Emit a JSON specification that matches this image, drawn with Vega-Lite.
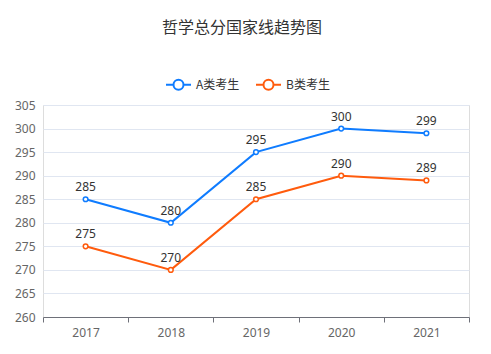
{
  "$schema": "https://vega.github.io/schema/vega-lite/v6.json",
  "autosize": "none",
  "width": 426,
  "height": 212,
  "padding": {"left": 43, "top": 105, "right": 22, "bottom": 37},
  "background": "white",
  "title": {
    "text": "哲学总分国家线趋势图",
    "frame": "bounds",
    "anchor": "middle",
    "fontSize": 16,
    "fontWeight": "normal",
    "color": "#333",
    "font": "Noto Sans CJK SC",
    "offset": 35
  },
  "data": {
    "values": [
      {"year": "2017", "type": "A类考生", "score": 285},
      {"year": "2018", "type": "A类考生", "score": 280},
      {"year": "2019", "type": "A类考生", "score": 295},
      {"year": "2020", "type": "A类考生", "score": 300},
      {"year": "2021", "type": "A类考生", "score": 299},
      {"year": "2017", "type": "B类考生", "score": 275},
      {"year": "2018", "type": "B类考生", "score": 270},
      {"year": "2019", "type": "B类考生", "score": 285},
      {"year": "2020", "type": "B类考生", "score": 290},
      {"year": "2021", "type": "B类考生", "score": 289}
    ]
  },
  "encoding": {
    "x": {
      "field": "year",
      "type": "ordinal",
      "bandPosition": 0.5,
      "scale": {"type": "band", "paddingInner": 0, "paddingOuter": 0},
      "axis": {
        "title": null,
        "labelAngle": 0,
        "tickBand": "extent",
        "domainColor": "#6e7079",
        "tickColor": "#6e7079",
        "tickSize": 5,
        "labelColor": "#666",
        "labelFontSize": 12,
        "labelFont": "Noto Sans",
        "labelPadding": 5
      }
    },
    "y": {
      "field": "score",
      "type": "quantitative",
      "scale": {"domain": [260, 305], "nice": false, "zero": false},
      "axis": {
        "title": null,
        "values": [260, 265, 270, 275, 280, 285, 290, 295, 300, 305],
        "domain": false,
        "ticks": false,
        "gridColor": "#e0e6f1",
        "labelColor": "#666",
        "labelFontSize": 12,
        "labelFont": "Noto Sans",
        "labelPadding": 8
      }
    }
  },
  "layer": [
    {
      "mark": {"type": "line", "strokeWidth": 2},
      "encoding": {
        "color": {
          "field": "type",
          "type": "nominal",
          "scale": {"domain": ["A类考生", "B类考生"], "range": ["#0f7cff", "#ff5b0d"]},
          "legend": {
            "title": null,
            "orient": "none",
            "legendX": 122,
            "legendY": -34,
            "direction": "horizontal",
            "symbolType": "M-1,0L-0.4,0M0.4,0L1,0M-0.4,0A0.4,0.4,0,1,1,0.4,0A0.4,0.4,0,1,1,-0.4,0Z",
            "symbolSize": 625,
            "symbolStrokeWidth": 2,
            "symbolFillColor": "white",
            "labelFontSize": 12,
            "labelColor": "#333",
            "labelFont": "Noto Sans CJK SC",
            "columnPadding": 12,
            "labelOffset": 4
          }
        }
      }
    },
    {
      "mark": {"type": "point", "filled": true, "fill": "white", "strokeWidth": 1.5, "size": 22, "opacity": 1},
      "encoding": {
        "stroke": {"field": "type", "type": "nominal", "legend": null, "scale": {"domain": ["A类考生", "B类考生"], "range": ["#0f7cff", "#ff5b0d"]}}
      }
    },
    {
      "mark": {"type": "text", "dy": -12, "fontSize": 12, "color": "#333", "font": "Noto Sans"},
      "encoding": {"text": {"field": "score", "type": "quantitative"}}
    }
  ]
}
